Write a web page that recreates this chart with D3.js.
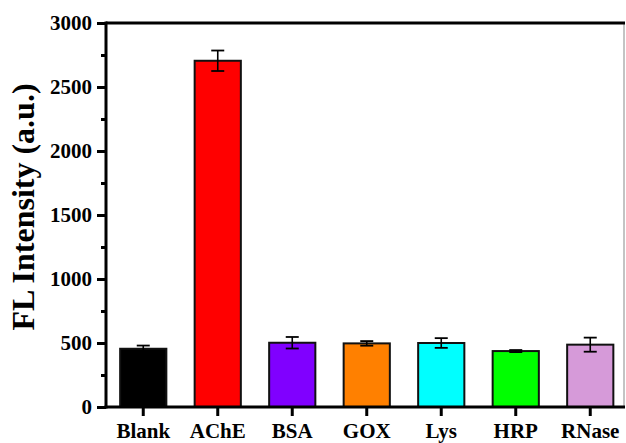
<!DOCTYPE html>
<html><head><meta charset="utf-8">
<script src="https://cdn.jsdelivr.net/npm/d3@7"></script>
<style>html,body{margin:0;padding:0;background:#fff;}</style>
</head><body>
<svg id="chart" width="626" height="443"></svg>
<script>
const categories = ["Blank","AChE","BSA","GOX","Lys","HRP","RNase"];
const values = [455, 2705, 502, 497, 500, 437, 487];
const errors = [25, 80, 45, 18, 38, 8, 55];
const colors = ["#000000","#ff0000","#8000ff","#ff8000","#00ffff","#00ff00","#d69ad9"];
const yTicks = [0,500,1000,1500,2000,2500,3000];
const yMinorTicks = [250,750,1250,1750,2250,2750];

const svg = d3.select("#chart");
const mLeft = 106, mRight = 624, mTop = 23, mBottom = 407;
const font = "'Liberation Serif','Times New Roman',serif";

const x = d3.scaleBand().domain(categories).range([mLeft, mLeft + 7*74.5]).paddingInner(0.38).paddingOuter(0.19);
const y = d3.scaleLinear().domain([0,3000]).range([mBottom, mTop]);

// right border
svg.append("line").attr("x1",mRight).attr("x2",mRight).attr("y1",mTop).attr("y2",mBottom)
  .attr("stroke","#888").attr("stroke-width",1);

// bars
const g = svg.append("g");
categories.forEach((c,i)=>{
  g.append("rect").attr("x",x(c)).attr("y",y(values[i])).attr("width",x.bandwidth())
    .attr("height",y(0)-y(values[i])).attr("fill",colors[i]).attr("stroke","#111").attr("stroke-width",2);
  const cx = x(c)+x.bandwidth()/2;
  const y1 = y(values[i]+errors[i]), y2 = y(values[i]-errors[i]);
  g.append("line").attr("x1",cx).attr("x2",cx).attr("y1",y1).attr("y2",y2).attr("stroke","#000").attr("stroke-width",1.6);
  [y1,y2].forEach(yy=>g.append("line").attr("x1",cx-6.5).attr("x2",cx+6.5).attr("y1",yy).attr("y2",yy).attr("stroke","#000").attr("stroke-width",1.8));
});

// top border
svg.append("line").attr("x1",mLeft).attr("x2",mRight+1).attr("y1",mTop).attr("y2",mTop)
  .attr("stroke","#000").attr("stroke-width",3);

// y axis
const yAxis = svg.append("g").attr("transform",`translate(${mLeft},0)`)
  .call(d3.axisLeft(y).tickValues(yTicks).tickSize(9).tickPadding(5).tickFormat(d3.format("d")));
yAxis.select(".domain").remove();
yAxis.selectAll(".tick line").attr("stroke","#000").attr("stroke-width",3);
yAxis.selectAll(".tick text").attr("font-family",font).attr("font-weight","bold").attr("font-size","21px").attr("fill","#000");
const yMinor = svg.append("g").attr("transform",`translate(${mLeft},0)`)
  .call(d3.axisLeft(y).tickValues(yMinorTicks).tickSize(5).tickFormat(""));
yMinor.select(".domain").remove();
yMinor.selectAll(".tick line").attr("stroke","#000").attr("stroke-width",3);
svg.append("line").attr("x1",mLeft).attr("x2",mLeft).attr("y1",mTop-1.5).attr("y2",mBottom+1.5)
  .attr("stroke","#000").attr("stroke-width",3);

// x axis
const xAxis = svg.append("g").attr("transform",`translate(0,${mBottom})`)
  .call(d3.axisBottom(x).tickSize(9).tickPadding(7));
xAxis.select(".domain").remove();
xAxis.selectAll(".tick line").attr("stroke","#000").attr("stroke-width",3);
xAxis.selectAll(".tick text").attr("font-family",font).attr("font-weight","bold").attr("font-size","21px").attr("fill","#000");
svg.append("line").attr("x1",mLeft-1.5).attr("x2",mRight+1).attr("y1",mBottom).attr("y2",mBottom)
  .attr("stroke","#000").attr("stroke-width",3);

// y title
svg.append("text").attr("transform",`translate(34,207) rotate(-90)`)
  .attr("text-anchor","middle").attr("font-family",font).attr("font-weight","bold")
  .attr("font-size","32px").attr("fill","#000").text("FL Intensity (a.u.)");
</script>
</body></html>
